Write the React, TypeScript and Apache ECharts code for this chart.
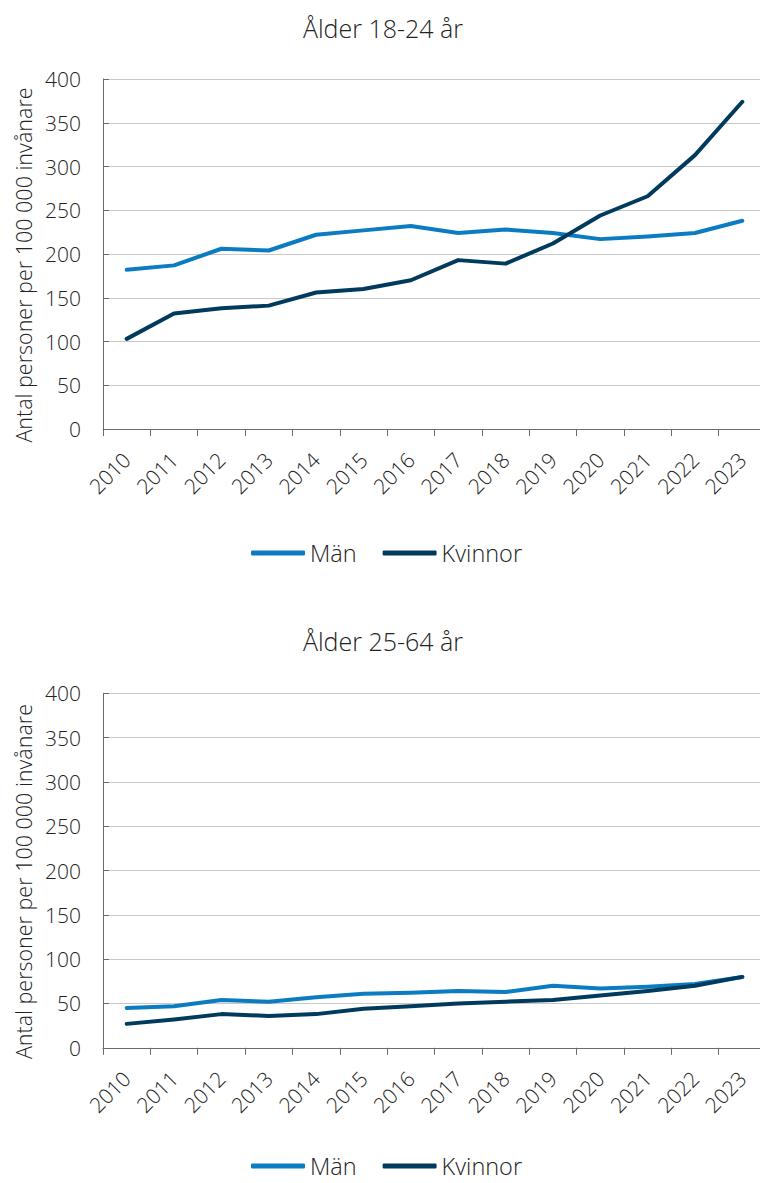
import React, { useEffect, useRef } from "react";
import * as echarts from "echarts";

const years = ["2010", "2011", "2012", "2013", "2014", "2015", "2016", "2017", "2018", "2019", "2020", "2021", "2022", "2023"];

const title1 = "Ålder 18-24 år";
const title2 = "Ålder 25-64 år";
const yName = "Antal personer per 100 000 invånare";

const man1824 = [182, 187, 206, 204, 222, 227, 232, 224, 228, 224, 217, 220, 224, 238];
const kvinnor1824 = [103, 132, 138, 141, 156, 160, 170, 193, 189, 212, 244, 266, 313, 374];

const man2564 = [45, 47, 54, 52, 57, 61, 62, 64, 63, 70, 67, 69, 72, 80];
const kvinnor2564 = [27, 32, 38, 36, 38, 44, 47, 50, 52, 54, 59, 64, 70, 80];

const FONT = "'Open Sans', 'Noto Sans', sans-serif";
const TXT = "#222222";
const C_MAN = "#0b7cc1";
const C_KV = "#003a5d";

function makeX(gridIndex: number) {
  return {
    type: "category",
    gridIndex,
    data: years,
    boundaryGap: true,
    axisLine: { show: true, lineStyle: { color: "#6b6b6b", width: 1 } },
    axisTick: { show: true, length: 7, lineStyle: { color: "#6b6b6b" } },
    axisLabel: { rotate: 45, fontSize: 21, color: TXT, fontFamily: FONT, fontWeight: 300, margin: 27, interval: 0 },
    splitLine: { show: false },
  };
}

function makeY(gridIndex: number) {
  return {
    type: "value",
    gridIndex,
    min: 0,
    max: 400,
    interval: 50,
    name: yName,
    nameLocation: "middle",
    nameGap: 66,
    nameTextStyle: { fontSize: 21.5, color: TXT, fontFamily: FONT, fontWeight: 300, padding: [0, 22, 0, 0] },
    axisLine: { show: true, lineStyle: { color: "#6b6b6b", width: 1 } },
    axisTick: { show: true, inside: true, length: 6, lineStyle: { color: "#6b6b6b" } },
    axisLabel: { fontSize: 21, color: TXT, fontFamily: FONT, fontWeight: 300, margin: 22 },
    splitLine: { show: true, lineStyle: { color: "#c8c8c8", width: 1 } },
  };
}

function makeLine(name: string, data: number[], color: string, idx: number) {
  return {
    type: "line",
    name,
    data,
    xAxisIndex: idx,
    yAxisIndex: idx,
    showSymbol: false,
    symbol: "none",
    color,
    lineStyle: { color, width: 4, cap: "round", join: "round" },
    z: name === "Kvinnor" ? 3 : 2,
  };
}

function makeLegend(top: number) {
  return {
    top,
    left: 251,
    padding: 0,
    itemGap: 26,
    itemWidth: 54,
    itemHeight: 5,
    icon: "roundRect",
    data: [
      { name: "Män", itemStyle: { color: C_MAN } },
      { name: "Kvinnor", itemStyle: { color: C_KV } },
    ],
    textStyle: { fontSize: 23.5, color: TXT, fontFamily: FONT, fontWeight: 300, lineHeight: 24, padding: [0, 0, 0, 0] },
  };
}

export default function App() {
  const ref = useRef<HTMLDivElement>(null);
  useEffect(() => {
    if (!ref.current) return;
    const chart = echarts.init(ref.current, undefined, { renderer: "svg" });
    chart.setOption({
      animation: false,
      backgroundColor: "#ffffff",
      title: [
        { text: title1, left: "center", top: 13, padding: 0, textStyle: { fontSize: 25, fontWeight: 300, color: TXT, fontFamily: FONT, lineHeight: 30 } },
        { text: title2, left: "center", top: 626, padding: 0, textStyle: { fontSize: 25, fontWeight: 300, color: TXT, fontFamily: FONT, lineHeight: 30 } },
      ],
      legend: [makeLegend(541), makeLegend(1154)],
      grid: [
        { left: 103, right: 0, top: 79, height: 350, containLabel: false },
        { left: 103, right: 0, top: 693.3, height: 354.5, containLabel: false },
      ],
      xAxis: [makeX(0), makeX(1)],
      yAxis: [makeY(0), makeY(1)],
      series: [
        makeLine("Män", man1824, C_MAN, 0),
        makeLine("Kvinnor", kvinnor1824, C_KV, 0),
        makeLine("Män", man2564, C_MAN, 1),
        makeLine("Kvinnor", kvinnor2564, C_KV, 1),
      ],
    });
    return () => chart.dispose();
  }, []);
  return (
    <div style={{ position: "absolute", left: 0, top: 0, width: 760, height: 1183, overflow: "hidden", background: "#fff" }}>
      <div ref={ref} style={{ width: 766, height: 1183 }} />
    </div>
  );
}
